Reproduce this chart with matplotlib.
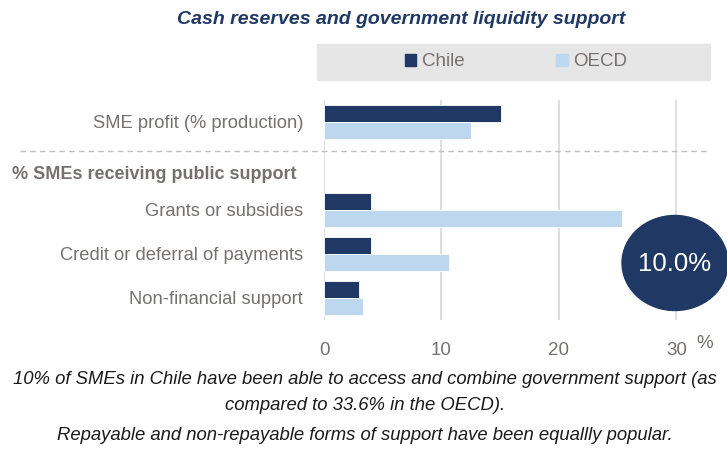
import matplotlib.pyplot as plt
from matplotlib.patches import Rectangle, Ellipse
from matplotlib.lines import Line2D
from matplotlib.transforms import blended_transform_factory

plt.rcParams['font.family'] = ['Liberation Sans', 'DejaVu Sans']

categories = ['SME profit (% production)', '', 'Grants or subsidies',
              'Credit or deferral of payments', 'Non-financial support']
chile = [15.1, None, 4.0, 4.0, 3.0]
oecd = [12.5, None, 25.4, 10.6, 3.35]
section_header = '% SMEs receiving public support'
ticks = [0, 10, 20, 30]
combined_chile = 10.0

navy = '#203864'
light = '#bdd7ee'
grey_txt = '#767171'

fig = plt.figure(figsize=(7.27, 4.49), dpi=100)
ax = fig.add_axes([324 / 727, 1 - 320 / 449, 383 / 727, 220 / 449])

h = 0.386
for i, (c, o) in enumerate(zip(chile, oecd)):
    if c is None:
        continue
    ax.barh(i - h / 2, c, height=h, color=navy, edgecolor='white', linewidth=0.6)
    ax.barh(i + h / 2, o, height=h, color=light, edgecolor='white', linewidth=0.6)

ax.set_ylim(4.5, -0.5)
ax.set_xlim(0, 32.6)
ax.set_xticks(ticks)
ax.set_xticklabels([str(t) for t in ticks])
ax.set_yticks(range(len(categories)))
ax.set_yticklabels(categories)
ax.tick_params(axis='y', length=0, pad=15, labelsize=13.2, labelcolor=grey_txt)
ax.tick_params(axis='x', length=0, pad=16, labelsize=13.5, labelcolor=grey_txt)
ax.grid(axis='x', color='#d9d9d9', linewidth=1.2)
ax.set_axisbelow(True)
for s in ax.spines.values():
    s.set_visible(False)

trans_fd = blended_transform_factory(fig.transFigure, ax.transData)

# section header sitting in the empty slot
ax.text(12 / 727, 1.2, section_header, transform=trans_fd,
        ha='left', va='center', fontsize=13, fontweight='bold', color=grey_txt)

# dashed separator across the label area and plot
sep = Line2D([20 / 727, 707 / 727], [0.66, 0.66], linestyle=(0, (4, 3)), color='#bfbfbf', linewidth=1,
             transform=trans_fd)
fig.add_artist(sep)

fig.text(705 / 727, 1 - 343 / 449, '%', ha='center', va='center', fontsize=13.5, color=grey_txt)

# highlighted share of SMEs combining support
circ = Ellipse((675 / 727, 1 - 263 / 449), 106 / 727, 95 / 449, color=navy, transform=fig.transFigure)
fig.add_artist(circ)
fig.text(675 / 727, 1 - 264 / 449, f'{combined_chile:.1f}%', ha='center', va='center',
         fontsize=18.5, color='white')

fig.text(401 / 727, 1 - 20 / 449, 'Cash reserves and government liquidity support', ha='center', va='center',
         fontsize=14, fontweight='bold', fontstyle='italic', color=navy)

fig.add_artist(Rectangle((317 / 727, 1 - 80 / 449), 393 / 727, 36 / 449, color='#e6e6e6',
                         transform=fig.transFigure, zorder=0))
handles = [Rectangle((0, 0), 1, 1, color=navy), Rectangle((0, 0), 1, 1, color=light)]
leg = fig.legend(handles, ['Chile', 'OECD'], loc='center', bbox_to_anchor=(516 / 727, 1 - 62 / 449), ncol=2,
                 frameon=False, fontsize=13.5, handlelength=0.6, handleheight=0.6, handletextpad=0.3,
                 columnspacing=4.9)
for t in leg.get_texts():
    t.set_color(grey_txt)

notes = ['10% of SMEs in Chile have been able to access and combine government support (as',
         'compared to 33.6% in the OECD).',
         'Repayable and non-repayable forms of support have been equallly popular.']
for y, line in zip([380, 406, 435], notes):
    fig.text(365 / 727, 1 - y / 449, line, ha='center', va='center', fontsize=13.3, fontstyle='italic',
             color='#1a1a1a')

fig.savefig('out.png', dpi=100)
